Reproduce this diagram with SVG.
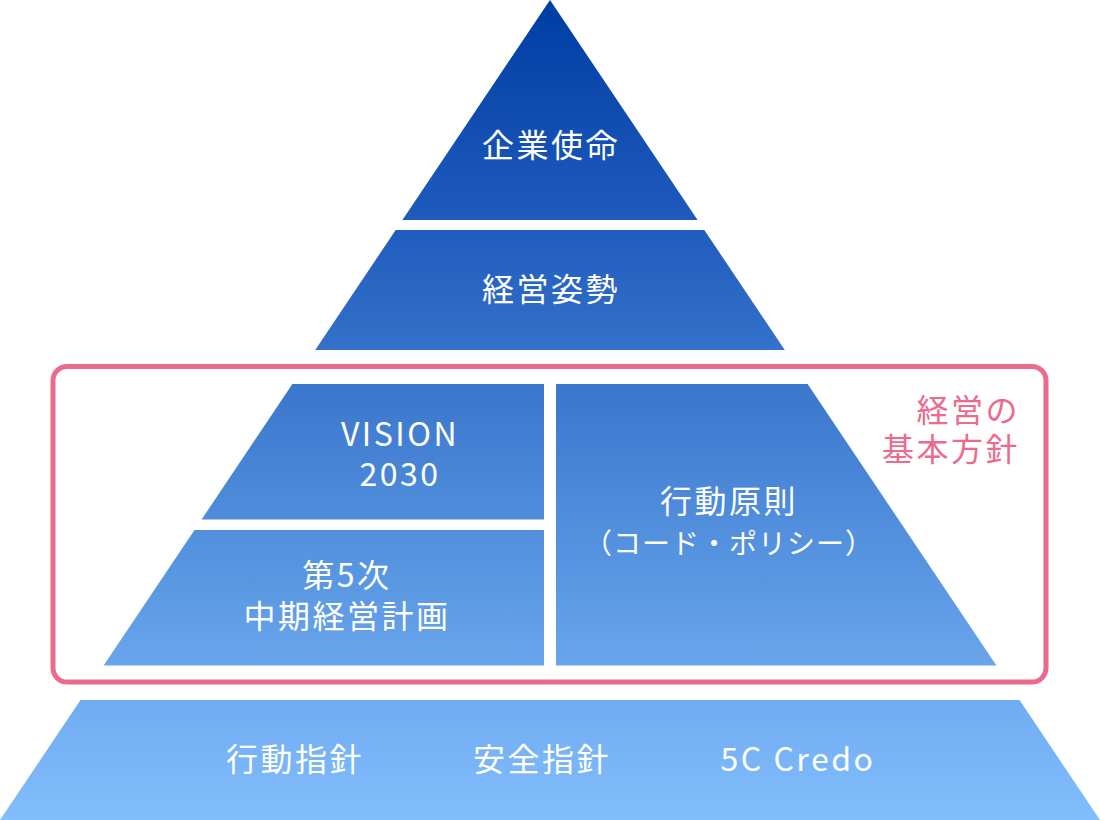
<svg xmlns="http://www.w3.org/2000/svg" width="1100" height="820" viewBox="0 0 1100 820">
  <defs>
    <linearGradient id="pyr" gradientUnits="userSpaceOnUse" x1="0" y1="0" x2="0" y2="820">
      <stop offset="0" stop-color="#003da3"/>
      <stop offset="0.27" stop-color="#1f5bbd"/>
      <stop offset="0.47" stop-color="#3a77cd"/>
      <stop offset="0.81" stop-color="#68a5eb"/>
      <stop offset="0.86" stop-color="#70acf1"/>
      <stop offset="1" stop-color="#82befc"/>
    </linearGradient>
  </defs>
  <style>
    .band { fill: url(#pyr); }
    .lbl { font-family: "Noto Sans CJK JP", "Noto Sans", sans-serif; font-size: 32px; fill: #ffffff; text-anchor: middle; letter-spacing: 2.5px; }
    .lbl2 { font-size: 28px; letter-spacing: 1px; }
    .pink { font-family: "Noto Sans CJK JP", "Noto Sans", sans-serif; font-size: 32px; fill: #ec6b8c; text-anchor: end; letter-spacing: 2.5px; }
    .frame { fill: none; stroke: #ec6b8c; stroke-width: 5; }
  </style>

  <g id="frame-basic-policy">
    <rect class="frame" x="53" y="366.5" width="993" height="315.5" rx="14" ry="14"/>
    <text class="pink" x="1020" y="422">経営の</text>
    <text class="pink" x="1020" y="461">基本方針</text>
  </g>

  <g id="node-mission">
    <polygon class="band" points="550,0 697.6,220 402.4,220"/>
    <text class="lbl" x="551" y="157">企業使命</text>
  </g>

  <g id="node-stance">
    <polygon class="band" points="395.7,230 704.3,230 784.8,350 315.2,350"/>
    <text class="lbl" x="551" y="301">経営姿勢</text>
  </g>

  <g id="node-vision">
    <polygon class="band" points="292.4,384 544,384 544,519.5 201.6,519.5"/>
    <text class="lbl" x="400" y="446">VISION</text>
    <text class="lbl" x="400" y="486">2030</text>
  </g>

  <g id="node-midterm">
    <polygon class="band" points="194.5,530 544,530 544,665.5 103.6,665.5"/>
    <text class="lbl" x="347" y="587" letter-spacing="4">第5次</text>
    <text class="lbl" x="347" y="628">中期経営計画</text>
  </g>

  <g id="node-code">
    <polygon class="band" points="556,384 807.6,384 996.4,665.5 556,665.5"/>
    <text class="lbl" x="729" y="513">行動原則</text>
    <text class="lbl lbl2" x="729" y="554">（コード・ポリシー）</text>
  </g>

  <g id="node-base">
    <polygon class="band" points="80.5,700 1019.5,700 1100,820 0,820"/>
    <text class="lbl" x="295" y="771">行動指針</text>
    <text class="lbl" x="542" y="771">安全指針</text>
    <text class="lbl" x="798" y="771">5C Credo</text>
  </g>

  <g id="connectors"/>
</svg>
